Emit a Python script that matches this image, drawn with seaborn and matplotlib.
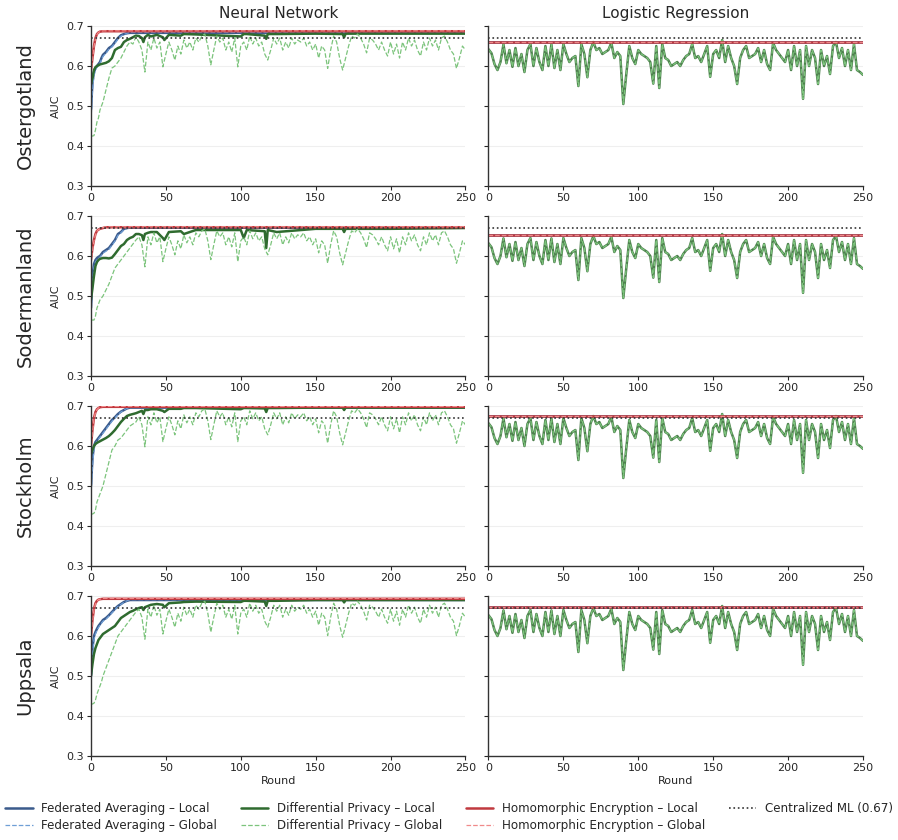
import numpy as np
import pandas as pd
import matplotlib
matplotlib.use("Agg")
import matplotlib.pyplot as plt
import seaborn as sns

# ---- data ----
regions = ["Ostergotland", "Sodermanland", "Stockholm", "Uppsala"]
centralized_auc = 0.67

# neural network, first 30 rounds
early_rounds = [0, 1, 2, 3, 4, 5, 6, 7, 8, 10, 12, 14, 16, 18, 20, 22, 24, 26, 28, 30]
he_rounds = [0, 1, 2, 3, 4, 5, 6, 8, 10]

ost_fa_local = [0.49, 0.56, 0.585, 0.595, 0.60, 0.605, 0.61, 0.62, 0.628, 0.635, 0.645, 0.65, 0.66, 0.67, 0.677, 0.68, 0.682, 0.683, 0.683, 0.683]
ost_fa_global = [0.46, 0.54, 0.575, 0.59, 0.597, 0.602, 0.607, 0.616, 0.624, 0.632, 0.642, 0.648, 0.657, 0.667, 0.675, 0.679, 0.682, 0.684, 0.684, 0.684]
ost_dp_local = [0.555, 0.57, 0.59, 0.597, 0.60, 0.602, 0.604, 0.605, 0.606, 0.608, 0.612, 0.62, 0.64, 0.645, 0.648, 0.66, 0.665, 0.668, 0.672, 0.676]
ost_dp_global = [0.425, 0.425, 0.426, 0.44, 0.46, 0.47, 0.49, 0.50, 0.51, 0.54, 0.57, 0.595, 0.60, 0.61, 0.62, 0.635, 0.65, 0.66, 0.655, 0.673]
ost_he_local = [0.59, 0.62, 0.65, 0.67, 0.68, 0.684, 0.686, 0.687, 0.687]
ost_he_global = [0.58, 0.615, 0.648, 0.668, 0.679, 0.684, 0.686, 0.688, 0.688]

sod_fa_local = [0.47, 0.55, 0.58, 0.59, 0.595, 0.598, 0.60, 0.605, 0.61, 0.615, 0.62, 0.63, 0.64, 0.655, 0.66, 0.668, 0.67, 0.671, 0.671, 0.671]
sod_fa_global = [0.45, 0.53, 0.57, 0.585, 0.59, 0.594, 0.597, 0.602, 0.607, 0.612, 0.617, 0.627, 0.637, 0.652, 0.658, 0.666, 0.669, 0.671, 0.672, 0.672]
sod_dp_local = [0.49, 0.52, 0.55, 0.575, 0.585, 0.59, 0.593, 0.594, 0.595, 0.595, 0.594, 0.596, 0.605, 0.615, 0.625, 0.63, 0.64, 0.645, 0.648, 0.655]
sod_dp_global = [0.44, 0.44, 0.44, 0.45, 0.47, 0.48, 0.49, 0.495, 0.50, 0.515, 0.53, 0.55, 0.57, 0.58, 0.59, 0.60, 0.61, 0.62, 0.63, 0.64]
sod_he_local = [0.59, 0.62, 0.64, 0.655, 0.663, 0.666, 0.668, 0.67, 0.672]
sod_he_global = [0.58, 0.615, 0.638, 0.653, 0.662, 0.666, 0.668, 0.671, 0.673]

sto_fa_local = [0.50, 0.57, 0.60, 0.61, 0.615, 0.62, 0.625, 0.63, 0.635, 0.645, 0.655, 0.665, 0.672, 0.68, 0.686, 0.69, 0.694, 0.696, 0.696, 0.696]
sto_fa_global = [0.47, 0.55, 0.59, 0.605, 0.612, 0.617, 0.622, 0.627, 0.632, 0.642, 0.652, 0.662, 0.67, 0.678, 0.685, 0.69, 0.694, 0.697, 0.697, 0.697]
sto_dp_local = [0.58, 0.59, 0.60, 0.605, 0.608, 0.61, 0.612, 0.614, 0.616, 0.62, 0.625, 0.632, 0.64, 0.65, 0.66, 0.668, 0.675, 0.678, 0.68, 0.682]
sto_dp_global = [0.43, 0.43, 0.432, 0.44, 0.46, 0.47, 0.48, 0.49, 0.50, 0.53, 0.56, 0.59, 0.60, 0.615, 0.62, 0.63, 0.64, 0.65, 0.655, 0.66]
sto_he_local = [0.60, 0.64, 0.67, 0.685, 0.692, 0.695, 0.697, 0.698, 0.698]
sto_he_global = [0.59, 0.635, 0.668, 0.684, 0.691, 0.695, 0.697, 0.699, 0.699]

upp_fa_local = [0.50, 0.57, 0.60, 0.61, 0.618, 0.625, 0.63, 0.635, 0.64, 0.645, 0.652, 0.66, 0.668, 0.675, 0.68, 0.685, 0.688, 0.69, 0.69, 0.69]
upp_fa_global = [0.47, 0.55, 0.59, 0.605, 0.614, 0.621, 0.627, 0.632, 0.637, 0.642, 0.65, 0.658, 0.666, 0.674, 0.679, 0.684, 0.688, 0.691, 0.691, 0.691]
upp_dp_local = [0.50, 0.53, 0.555, 0.57, 0.58, 0.59, 0.595, 0.60, 0.605, 0.61, 0.615, 0.62, 0.625, 0.635, 0.645, 0.65, 0.655, 0.66, 0.663, 0.667]
upp_dp_global = [0.43, 0.43, 0.432, 0.44, 0.455, 0.465, 0.475, 0.485, 0.50, 0.52, 0.54, 0.56, 0.58, 0.60, 0.61, 0.62, 0.63, 0.64, 0.65, 0.66]
upp_he_local = [0.60, 0.64, 0.668, 0.682, 0.688, 0.691, 0.692, 0.693, 0.693]
upp_he_global = [0.59, 0.635, 0.665, 0.68, 0.687, 0.691, 0.692, 0.694, 0.694]

# plateau levels after round 30 (NN)
fa_plateau = [0.683, 0.671, 0.696, 0.690]
he_plateau = [0.687, 0.672, 0.698, 0.693]

# DP local, rounds 32-250
dpl_late_rounds = [32, 34, 35, 36, 38, 40, 44, 48, 49, 52, 60, 62, 70, 100, 102, 104, 116, 117, 118, 124, 150, 168, 169, 170, 200, 250]
ost_dpl_late = [0.675, 0.67, 0.66, 0.672, 0.678, 0.674, 0.678, 0.672, 0.665, 0.678, 0.676, 0.68, 0.679, 0.674, 0.68, 0.68, 0.676, 0.668, 0.68, 0.68, 0.681, 0.68, 0.672, 0.681, 0.681, 0.681]
sod_dpl_late = [0.655, 0.652, 0.64, 0.655, 0.658, 0.66, 0.66, 0.645, 0.64, 0.66, 0.662, 0.655, 0.665, 0.665, 0.645, 0.665, 0.662, 0.62, 0.665, 0.66, 0.668, 0.668, 0.66, 0.668, 0.668, 0.67]
sto_dpl_late = [0.685, 0.688, 0.68, 0.69, 0.69, 0.692, 0.692, 0.688, 0.685, 0.693, 0.693, 0.695, 0.695, 0.692, 0.695, 0.695, 0.694, 0.685, 0.695, 0.695, 0.696, 0.696, 0.69, 0.696, 0.696, 0.696]
upp_dpl_late = [0.67, 0.672, 0.665, 0.672, 0.675, 0.678, 0.68, 0.678, 0.672, 0.682, 0.684, 0.685, 0.686, 0.685, 0.688, 0.688, 0.686, 0.675, 0.688, 0.688, 0.69, 0.69, 0.684, 0.69, 0.69, 0.69]

# DP global, rounds 32-250 every 2 (Ostergotland levels; other regions sit at their own plateau)
dpg_late = [
    0.66, 0.64, 0.585, 0.66, 0.64, 0.67,
    0.645, 0.66, 0.598, 0.63, 0.66, 0.64,
    0.615, 0.65, 0.63, 0.665, 0.645, 0.66,
    0.64, 0.67, 0.66, 0.675, 0.68, 0.65,
    0.603, 0.64, 0.675, 0.66, 0.67, 0.64,
    0.66, 0.635, 0.67, 0.598, 0.65, 0.66,
    0.64, 0.675, 0.655, 0.67, 0.65, 0.66,
    0.63, 0.615, 0.64, 0.67, 0.655, 0.67,
    0.64, 0.66, 0.645, 0.67, 0.655, 0.665,
    0.66, 0.67, 0.65, 0.66, 0.64, 0.655,
    0.62, 0.65, 0.64, 0.594, 0.64, 0.675,
    0.66, 0.62, 0.59, 0.62, 0.65, 0.675,
    0.67, 0.68, 0.67, 0.655, 0.633, 0.67,
    0.665, 0.655, 0.64, 0.66, 0.64, 0.625,
    0.66, 0.63, 0.655, 0.62, 0.66, 0.64,
    0.67, 0.65, 0.665, 0.64, 0.625, 0.66,
    0.64, 0.67, 0.65, 0.665, 0.64, 0.67,
    0.675, 0.66, 0.64, 0.63, 0.594, 0.62,
    0.65, 0.64,
]
dpg_late_rounds = list(range(32, 251, 2))

# logistic regression
lr_level = [0.660, 0.652, 0.675, 0.672]       # FedAvg / HE (flat)
lr_dp_shift = [0.0, -0.01, 0.015, 0.01]
lr_rounds = list(range(0, 251, 2))
lr_dp = [
    0.642, 0.632, 0.605, 0.59, 0.61, 0.654,
    0.607, 0.64, 0.598, 0.645, 0.60, 0.63,
    0.585, 0.64, 0.655, 0.60, 0.645, 0.61,
    0.59, 0.65, 0.60, 0.654, 0.595, 0.64,
    0.59, 0.655, 0.63, 0.61, 0.62, 0.625,
    0.55, 0.655, 0.63, 0.572, 0.64, 0.66,
    0.64, 0.645, 0.63, 0.635, 0.64, 0.658,
    0.62, 0.635, 0.625, 0.505, 0.58, 0.65,
    0.62, 0.605, 0.64, 0.63, 0.625, 0.62,
    0.61, 0.556, 0.65, 0.545, 0.655, 0.62,
    0.615, 0.60, 0.605, 0.61, 0.60, 0.615,
    0.625, 0.63, 0.655, 0.62, 0.625, 0.61,
    0.63, 0.65, 0.573, 0.63, 0.64, 0.62,
    0.665, 0.61, 0.65, 0.62, 0.60, 0.555,
    0.62, 0.64, 0.65, 0.62, 0.625, 0.63,
    0.645, 0.61, 0.64, 0.605, 0.59, 0.658,
    0.64, 0.63, 0.62, 0.61, 0.64, 0.59,
    0.65, 0.60, 0.64, 0.518, 0.65, 0.60,
    0.64, 0.62, 0.555, 0.64, 0.60, 0.625,
    0.58, 0.65, 0.66, 0.62, 0.645, 0.60,
    0.64, 0.59, 0.655, 0.59, 0.585, 0.578,
]

nn_data = {
    "Ostergotland": (ost_fa_local, ost_fa_global, ost_dp_local, ost_dp_global, ost_he_local, ost_he_global, ost_dpl_late),
    "Sodermanland": (sod_fa_local, sod_fa_global, sod_dp_local, sod_dp_global, sod_he_local, sod_he_global, sod_dpl_late),
    "Stockholm": (sto_fa_local, sto_fa_global, sto_dp_local, sto_dp_global, sto_he_local, sto_he_global, sto_dpl_late),
    "Uppsala": (upp_fa_local, upp_fa_global, upp_dp_local, upp_dp_global, upp_he_local, upp_he_global, upp_dpl_late),
}

labels = ["Federated Averaging – Local", "Federated Averaging – Global",
          "Differential Privacy – Local", "Differential Privacy – Global",
          "Homomorphic Encryption – Local", "Homomorphic Encryption – Global"]
colors = ["#3b5b8c", "#6f9fd6", "#2f6b2f", "#7cc47c", "#c0393f", "#f08a8a"]
styles = ["-", "--", "-", "--", "-", "--"]
widths = [1.8, 0.9, 1.8, 0.9, 1.8, 0.9]

# ---- build long table ----
rows = []
def add(region, model, label, rounds, values):
    for r, v in zip(rounds, values):
        rows.append((region, model, label, r, v))

for i, reg in enumerate(regions):
    fal, fag, dpl, dpg, hel, heg, dpl_late = nn_data[reg]
    off = fa_plateau[i] - fa_plateau[0]
    add(reg, "NN", labels[0], early_rounds + [250], fal + [fa_plateau[i]])
    add(reg, "NN", labels[1], early_rounds + [250], fag + [fa_plateau[i] + 0.001])
    add(reg, "NN", labels[2], early_rounds + dpl_late_rounds, dpl + dpl_late)
    add(reg, "NN", labels[3], early_rounds + dpg_late_rounds, dpg + [v + off for v in dpg_late])
    add(reg, "NN", labels[4], he_rounds + [250], hel + [he_plateau[i]])
    add(reg, "NN", labels[5], he_rounds + [250], heg + [he_plateau[i] + 0.001])
    for k in (0, 1, 4, 5):
        add(reg, "LR", labels[k], [0, 250], [lr_level[i], lr_level[i]])
    lr_vals = [v + lr_dp_shift[i] for v in lr_dp]
    add(reg, "LR", labels[2], lr_rounds, lr_vals)
    add(reg, "LR", labels[3], lr_rounds, lr_vals)

df = pd.DataFrame(rows, columns=["region", "model", "series", "round", "auc"])

# ---- plot ----
sns.set_theme(style="ticks")
plt.rcParams["font.family"] = ["DejaVu Sans"]

fig, axes = plt.subplots(4, 2, figsize=(8.98, 8.40), dpi=100, sharey=True)
fig.subplots_adjust(left=0.1013, right=0.961, top=0.969, bottom=0.1, wspace=0.0615, hspace=0.1875)

for i, reg in enumerate(regions):
    for j, model in enumerate(["NN", "LR"]):
        ax = axes[i, j]
        sub = df[(df.region == reg) & (df.model == model)]
        for k, lab in enumerate(labels):
            d = sub[sub.series == lab]
            sns.lineplot(data=d, x="round", y="auc", ax=ax, color=colors[k],
                         linestyle=styles[k], linewidth=widths[k], label=lab,
                         legend=False, estimator=None, sort=True,
                         alpha=0.85 if k == 2 and model == "LR" else 1.0)
        ax.axhline(centralized_auc, color="#333333", linestyle=":", linewidth=1.2,
                   label="Centralized ML (0.67)")
        ax.set_xlim(0, 250)
        ax.set_ylim(0.3, 0.7)
        ax.set_xticks([0, 50, 100, 150, 200, 250])
        ax.set_yticks([0.3, 0.4, 0.5, 0.6, 0.7])
        ax.grid(axis="y", color="#efefef", linewidth=0.8)
        ax.set_axisbelow(True)
        ax.tick_params(labelsize=8, length=3, width=0.8, pad=2)
        for s in ("left", "bottom"):
            ax.spines[s].set_color("#333333")
            ax.spines[s].set_linewidth(1.0)
        sns.despine(ax=ax)
        ax.set_xlabel("Round" if i == 3 else "", fontsize=8, labelpad=2)
        ax.set_ylabel("AUC" if j == 0 else "", fontsize=8)
    pos = axes[i, 0].get_position()
    fig.text(0.028, (pos.y0 + pos.y1) / 2, reg, rotation=90, ha="center",
             va="center", fontsize=14)

axes[0, 0].set_title("Neural Network", fontsize=11, pad=6)
axes[0, 1].set_title("Logistic Regression", fontsize=11, pad=6)

handles, labs = axes[0, 0].get_legend_handles_labels()
fig.legend(handles, labs, loc="center", bbox_to_anchor=(0.5, 0.027), ncol=4,
           frameon=False, fontsize=8.6, handlelength=2.3, columnspacing=2.0,
           labelspacing=0.35, handletextpad=0.7)

fig.savefig("out.png", dpi=100)
